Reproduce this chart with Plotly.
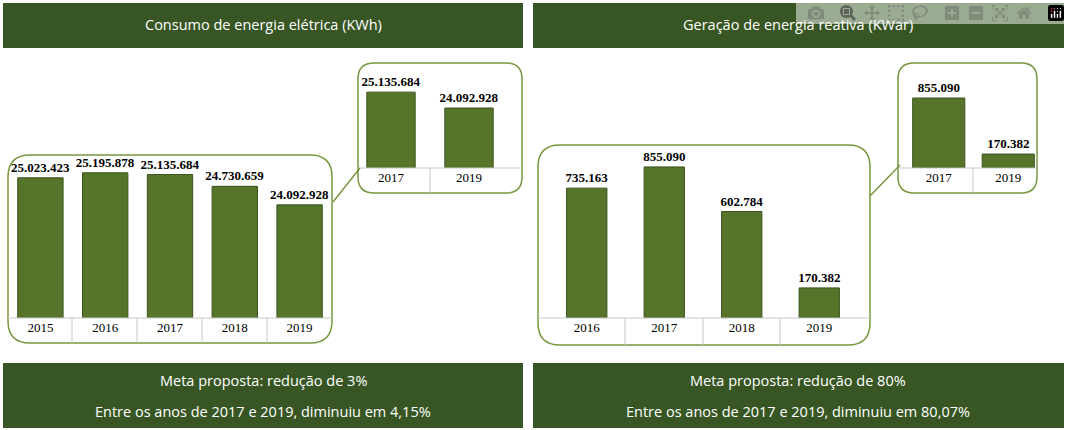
import plotly.graph_objects as go

W, H = 1070, 430

cons_years = ["2015", "2016", "2017", "2018", "2019"]
cons_vals = [25023423, 25195878, 25135684, 24730659, 24092928]
cons_zoom_years = ["2017", "2019"]
cons_zoom_vals = [25135684, 24092928]

reat_years = ["2016", "2017", "2018", "2019"]
reat_vals = [735163, 855090, 602784, 170382]
reat_zoom_years = ["2017", "2019"]
reat_zoom_vals = [855090, 170382]


def fmt(v):
    return f"{v:,}".replace(",", ".")


def px(x):
    return x / W


def py(y):
    return 1 - y / H


def rrect(x0, y0, x1, y1, r):
    X0, X1 = px(x0), px(x1)
    Y0, Y1 = py(y0), py(y1)
    rx, ry = r / W, r / H
    return (f"M{X0+rx},{Y0} L{X1-rx},{Y0} Q{X1},{Y0} {X1},{Y0-ry} "
            f"L{X1},{Y1+ry} Q{X1},{Y1} {X1-rx},{Y1} L{X0+rx},{Y1} "
            f"Q{X0},{Y1} {X0},{Y1+ry} L{X0},{Y0-ry} Q{X0},{Y0} {X0+rx},{Y0} Z")


fig = go.Figure()
bar_fill = "#56742a"
bar_line = "#3a531d"
green = "#375623"
outline = "#77983f"

panels = [
    # x, y, axis id, xdomain px, ydomain px (bottom, top), yrange, width
    (cons_years, cons_vals, "", (8, 332), (318, 150), (20.2e6, 25.98e6), 0.7),
    (cons_zoom_years, cons_zoom_vals, "2", (352, 508), (168, 63), (20.15e6, 27.05e6), 0.62),
    (reat_years, reat_vals, "3", (548, 858), (318, 150), (0, 951000), 0.52),
    (reat_zoom_years, reat_zoom_vals, "4", (904, 1043), (168, 63), (0, 1282600), 0.75),
]

for cats, vals, ax, xd, yd, yr, bw in panels:
    fig.add_trace(go.Bar(
        x=cats, y=vals, width=bw, xaxis="x" + ax, yaxis="y" + ax,
        marker=dict(color=bar_fill, line=dict(color=bar_line, width=1)),
        text=[fmt(v) for v in vals], texttemplate="<b>%{text}</b>",
        textposition="outside", cliponaxis=False, constraintext="none",
        textfont=dict(family="Liberation Serif", size=13, color="black"),
        showlegend=False,
    ))
    fig.update_layout(**{
        "xaxis" + ax: dict(domain=[px(xd[0]), px(xd[1])], anchor="y" + ax,
                           showline=False, ticks="", showgrid=False,
                           tickfont=dict(family="Liberation Serif", size=13, color="black")),
        "yaxis" + ax: dict(domain=[py(yd[0]), py(yd[1])], anchor="x" + ax,
                           range=list(yr), visible=False, showgrid=False),
    })

shapes = []
# boxes
for b in [(8, 155, 332, 343, 22), (358, 63, 522, 193, 16),
          (538, 145, 870, 345, 22), (898, 63, 1037, 193, 16)]:
    shapes.append(dict(type="path", path=rrect(*b), xref="paper", yref="paper",
                       line=dict(color=outline, width=1.5)))
# category separators
for xs, y0, y1 in [([72, 137, 202, 267], 318, 343), ([430], 168, 193),
                   ([625, 703, 780], 318, 345), ([973], 168, 193)]:
    for x in xs:
        shapes.append(dict(type="line", xref="paper", yref="paper",
                           x0=px(x), x1=px(x), y0=py(y0), y1=py(y1),
                           line=dict(color="#c8c8c8", width=1)))
# baselines
for x0, x1, y in [(8, 332, 318), (358, 522, 168), (538, 870, 318), (898, 1037, 168)]:
    shapes.append(dict(type="line", xref="paper", yref="paper",
                       x0=px(x0), x1=px(x1), y0=py(y), y1=py(y),
                       line=dict(color="#c8c8c8", width=1)))
# connectors
shapes.append(dict(type="line", xref="paper", yref="paper", x0=px(333), y0=py(202),
                   x1=px(360), y1=py(168), line=dict(color=outline, width=1.5)))
shapes.append(dict(type="line", xref="paper", yref="paper", x0=px(870), y0=py(196),
                   x1=px(900), y1=py(165), line=dict(color=outline, width=1.5)))
# header / footer boxes
for x0, y0, x1, y1 in [(3, 3, 523, 48), (533, 3, 1064, 48),
                       (3, 363, 523, 428), (533, 363, 1064, 428)]:
    shapes.append(dict(type="rect", xref="paper", yref="paper", x0=px(x0), x1=px(x1),
                       y0=py(y0), y1=py(y1), fillcolor=green, line=dict(width=0),
                       layer="below"))

ann = []
tf = dict(family="Open Sans", size=14.5, color="white")
for x, y, t in [(263, 25, "Consumo de energia elétrica (KWh)"),
                (798, 25, "Geração de energia reativa (KWar)"),
                (263, 380, "Meta proposta: redução de 3%"),
                (263, 411, "Entre os anos de 2017 e 2019, diminuiu em 4,15%"),
                (798, 380, "Meta proposta: redução de 80%"),
                (798, 411, "Entre os anos de 2017 e 2019, diminuiu em 80,07%")]:
    ann.append(dict(x=px(x), y=py(y), xref="paper", yref="paper", text=t,
                    showarrow=False, font=tf, xanchor="center", yanchor="middle"))

fig.update_layout(width=W, height=H, margin=dict(l=0, r=0, t=0, b=0),
                  paper_bgcolor="white", plot_bgcolor="rgba(0,0,0,0)",
                  shapes=shapes, annotations=ann, bargap=0.3)

fig.write_html("out.html",
               post_script="document.body.style.margin='0';document.body.style.overflow='hidden';")
